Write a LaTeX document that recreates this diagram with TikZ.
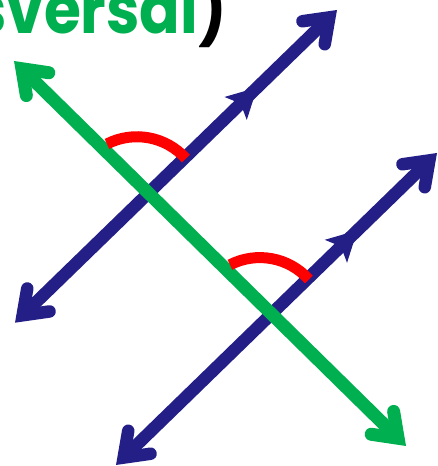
\documentclass[tikz,border=0pt]{standalone}
\usepackage{fontspec}
\newfontfamily\titlefont{Poppins}[BoldFont={* Bold}]
\usetikzlibrary{arrows.meta,calc}
\definecolor{lineblue}{RGB}{35,31,135}
\definecolor{transgreen}{RGB}{0,176,80}
\definecolor{anglered}{RGB}{255,0,0}
\tikzset{
  barbtip/.tip={Straight Barb[length=22pt,width=32pt,line cap=round,line join=miter]},
  parline/.style={draw=lineblue,line width=12.5pt,{barbtip}-{barbtip}},
  transline/.style={draw=transgreen,line width=13pt,{barbtip}-{barbtip}},
  midhead/.style={fill=lineblue},
  anglearc/.style={draw=anglered,line width=11pt,line cap=butt},
  titletext/.style={inner sep=0pt,xscale=0.88,font=\titlefont\bfseries\fontsize{68}{68}\selectfont}
}
\begin{document}
\begin{tikzpicture}[x=1pt,y=1pt]
\useasboundingbox (0,0) rectangle (437,466);
\clip (0,0) rectangle (437,466);
% end points (y measured upward)
\coordinate (b1s) at (15,143.3);
\coordinate (b1e) at (337,456);
\coordinate (b2s) at (116,1);
\coordinate (b2e) at (437,313);
\coordinate (gs) at (14,405);
\coordinate (ge) at (406,20);
% title fragment
\node[titletext,anchor=base east] (title) at (227,432.7) {\textcolor{transgreen}{sversal}\textcolor{black}{)}};
% parallel lines
\draw[parline] (b1s) -- (b1e);
\draw[parline] (b2s) -- (b2e);
\coordinate (m1b) at ($(b1s)!0.752!(b1e)$);
\coordinate (m2b) at ($(b2s)!0.752!(b2e)$);
\fill[midhead,shift={(m1b)},rotate=44.17] (0,0) -- (-30,16) -- (-23,0) -- (-30,-16) -- cycle;
\fill[midhead,shift={(m2b)},rotate=44.18] (0,0) -- (-30,16) -- (-23,0) -- (-30,-16) -- cycle;
% transversal
\draw[transline] (gs) -- (ge);
% intersections and angle arcs
\coordinate (p1) at (intersection of b1s--b1e and gs--ge);
\coordinate (p2) at (intersection of b2s--b2e and gs--ge);
\coordinate (c1) at ($(p1)+(-11.6,-9.4)$);
\coordinate (c2) at ($(p2)+(-11.6,-9.4)$);
\draw[anglearc] ($(c1)+(41.8:65.7)$) arc[start angle=41.8,end angle=117.1,radius=65.7];
\draw[anglearc] ($(c2)+(41.8:65.7)$) arc[start angle=41.8,end angle=117.1,radius=65.7];
\end{tikzpicture}
\end{document}
